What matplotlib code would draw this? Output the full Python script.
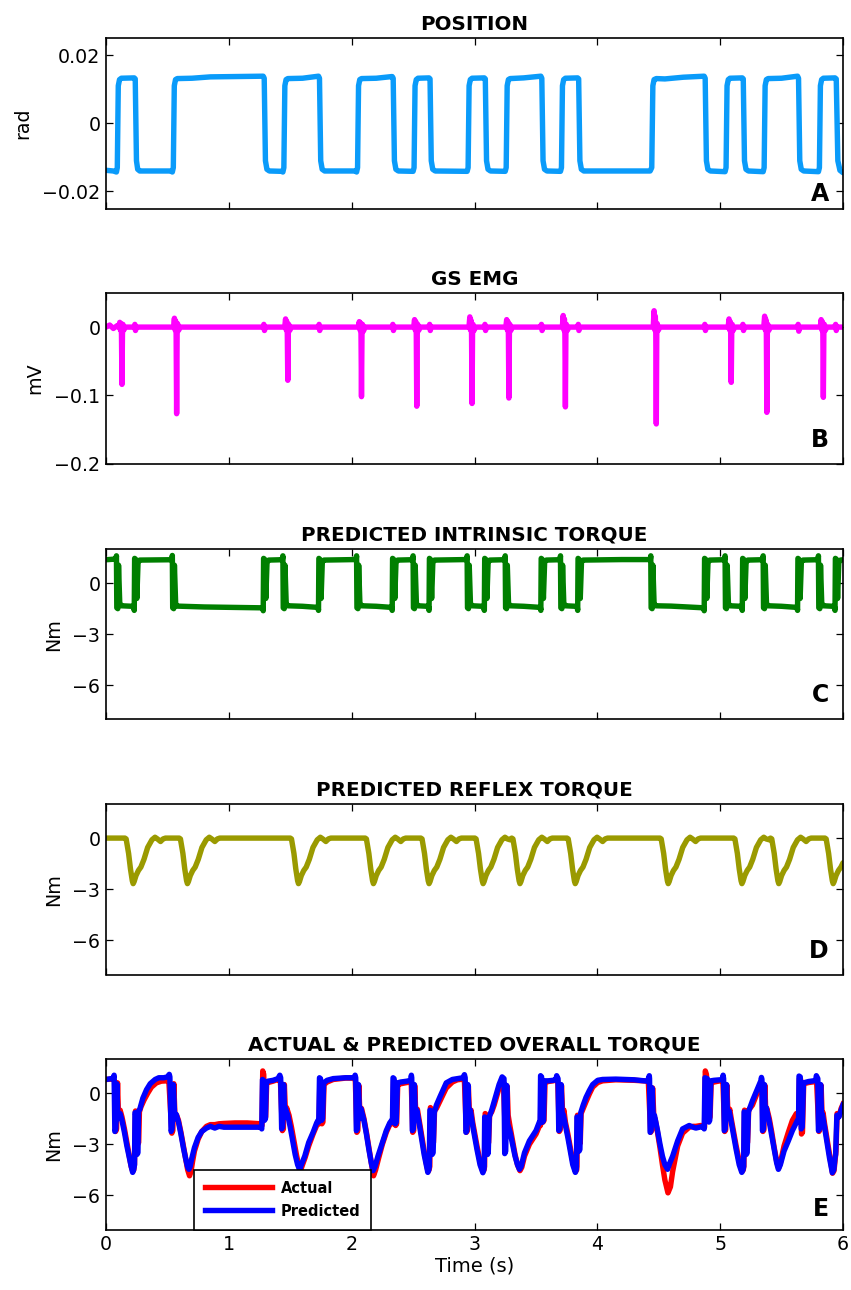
import matplotlib
matplotlib.use("Agg")
import matplotlib.pyplot as plt

# ---------------------------------------------------------------- data
# each trace is a list of (time [s], value) points

position = [
    (0.000, -0.0138), (0.060, -0.0140), (0.085, -0.0143),
    (0.092, -0.0130), (0.100, 0.0110), (0.110, 0.0128), (0.125, 0.0132), (0.230, 0.0133),
    (0.238, 0.0130), (0.248, -0.0110), (0.258, -0.0135), (0.275, -0.0140), (0.530, -0.0140), (0.540, -0.0143),
    (0.548, -0.0130), (0.556, 0.0110), (0.566, 0.0128), (0.580, 0.0131), (0.700, 0.0132), (0.850, 0.0136),
    (1.050, 0.0137), (1.280, 0.0138),
    (1.288, 0.0132), (1.298, -0.0110), (1.310, -0.0135), (1.330, -0.0140), (1.430, -0.0141), (1.440, -0.0143),
    (1.448, -0.0130), (1.456, 0.0110), (1.466, 0.0128), (1.480, 0.0131), (1.600, 0.0132), (1.730, 0.0138),
    (1.738, 0.0132), (1.748, -0.0110), (1.760, -0.0135), (1.780, -0.0140), (2.030, -0.0140), (2.040, -0.0143),
    (2.048, -0.0130), (2.056, 0.0110), (2.066, 0.0128), (2.080, 0.0131), (2.200, 0.0132), (2.330, 0.0137),
    (2.338, 0.0132), (2.348, -0.0110), (2.360, -0.0135), (2.380, -0.0140), (2.500, -0.0141),
    (2.508, -0.0130), (2.516, 0.0110), (2.526, 0.0128), (2.540, 0.0132), (2.630, 0.0133),
    (2.638, 0.0130), (2.648, -0.0110), (2.660, -0.0135), (2.680, -0.0140), (2.940, -0.0141),
    (2.948, -0.0130), (2.956, 0.0110), (2.966, 0.0128), (2.980, 0.0132), (3.080, 0.0133),
    (3.088, 0.0130), (3.098, -0.0110), (3.110, -0.0135), (3.130, -0.0140), (3.250, -0.0141),
    (3.258, -0.0130), (3.266, 0.0110), (3.276, 0.0128), (3.290, 0.0131), (3.400, 0.0133), (3.540, 0.0138),
    (3.548, 0.0132), (3.558, -0.0110), (3.570, -0.0135), (3.590, -0.0140), (3.700, -0.0141),
    (3.708, -0.0130), (3.716, 0.0110), (3.726, 0.0128), (3.740, 0.0132), (3.840, 0.0133),
    (3.848, 0.0130), (3.858, -0.0110), (3.870, -0.0135), (3.890, -0.0140), (4.430, -0.0140),
    (4.443, -0.0130), (4.452, 0.0110), (4.462, 0.0128), (4.480, 0.0131), (4.550, 0.0130), (4.700, 0.0135),
    (4.870, 0.0138),
    (4.878, 0.0132), (4.888, -0.0110), (4.900, -0.0135), (4.920, -0.0140), (5.040, -0.0142),
    (5.048, -0.0130), (5.056, 0.0110), (5.066, 0.0128), (5.080, 0.0132), (5.180, 0.0133),
    (5.188, 0.0130), (5.198, -0.0110), (5.210, -0.0135), (5.230, -0.0140), (5.350, -0.0142),
    (5.358, -0.0130), (5.366, 0.0110), (5.376, 0.0128), (5.390, 0.0131), (5.500, 0.0132), (5.630, 0.0138),
    (5.638, 0.0132), (5.648, -0.0110), (5.660, -0.0135), (5.680, -0.0140), (5.800, -0.0142),
    (5.808, -0.0130), (5.816, 0.0110), (5.826, 0.0128), (5.840, 0.0132), (5.935, 0.0133),
    (5.945, 0.0130), (5.958, -0.0110), (5.975, -0.0138), (6.000, -0.0145),
]

gs_emg = [
    (0.000, 0.000), (0.030, 0.003), (0.060, -0.002), (0.090, 0.002),
    (0.105, 0.000), (0.112, 0.007), (0.117, -0.004), (0.122, 0.005), (0.126, -0.010), (0.130, -0.084),
    (0.134, -0.010), (0.138, 0.004), (0.145, -0.004), (0.160, 0.000),
    (0.230, 0.000), (0.235, 0.004), (0.240, -0.005), (0.247, 0.000),
    (0.550, 0.000), (0.557, 0.013), (0.562, -0.004), (0.567, 0.009), (0.571, -0.010), (0.575, -0.127),
    (0.579, -0.010), (0.583, 0.005), (0.590, -0.005), (0.605, 0.000),
    (1.280, 0.000), (1.285, 0.004), (1.290, -0.005), (1.297, 0.000),
    (1.455, 0.000), (1.462, 0.012), (1.467, -0.004), (1.472, 0.008), (1.476, -0.010), (1.480, -0.078),
    (1.484, -0.010), (1.488, 0.004), (1.495, -0.005), (1.510, 0.000),
    (1.730, 0.000), (1.735, 0.004), (1.740, -0.005), (1.747, 0.000),
    (2.055, 0.000), (2.062, 0.008), (2.067, -0.004), (2.072, 0.006), (2.076, -0.010), (2.080, -0.102),
    (2.084, -0.010), (2.088, 0.004), (2.095, -0.006), (2.110, 0.000),
    (2.330, 0.000), (2.335, 0.004), (2.340, -0.005), (2.347, 0.000),
    (2.505, 0.000), (2.512, 0.011), (2.517, -0.004), (2.522, 0.008), (2.526, -0.010), (2.530, -0.116),
    (2.534, -0.010), (2.538, 0.004), (2.545, -0.005), (2.560, 0.000),
    (2.630, 0.000), (2.635, 0.004), (2.640, -0.005), (2.647, 0.000),
    (2.955, 0.000), (2.962, 0.015), (2.967, -0.004), (2.972, 0.010), (2.976, -0.010), (2.980, -0.112),
    (2.984, -0.010), (2.988, 0.004), (2.995, -0.005), (3.010, 0.000),
    (3.080, 0.000), (3.085, 0.004), (3.090, -0.005), (3.097, 0.000),
    (3.255, 0.000), (3.262, 0.011), (3.267, -0.004), (3.272, 0.008), (3.276, -0.010), (3.280, -0.104),
    (3.284, -0.010), (3.288, 0.004), (3.295, -0.005), (3.310, 0.000),
    (3.540, 0.000), (3.545, 0.004), (3.550, -0.005), (3.557, 0.000),
    (3.715, 0.000), (3.722, 0.017), (3.727, -0.004), (3.732, 0.012), (3.736, -0.010), (3.740, -0.117),
    (3.744, -0.010), (3.748, 0.004), (3.755, -0.005), (3.770, 0.000),
    (3.840, 0.000), (3.845, 0.004), (3.850, -0.005), (3.857, 0.000),
    (4.455, 0.000), (4.462, 0.024), (4.467, -0.004), (4.472, 0.016), (4.476, -0.010), (4.480, -0.142),
    (4.484, -0.010), (4.488, 0.005), (4.495, -0.005), (4.510, 0.000),
    (4.870, 0.000), (4.875, 0.004), (4.880, -0.005), (4.887, 0.000),
    (5.065, 0.000), (5.072, 0.012), (5.077, -0.004), (5.082, 0.008), (5.086, -0.010), (5.090, -0.081),
    (5.094, -0.010), (5.098, 0.004), (5.105, -0.005), (5.120, 0.000),
    (5.180, 0.000), (5.185, 0.004), (5.190, -0.005), (5.197, 0.000),
    (5.355, 0.000), (5.362, 0.016), (5.367, -0.004), (5.372, 0.011), (5.376, -0.010), (5.380, -0.125),
    (5.384, -0.010), (5.388, 0.004), (5.395, -0.005), (5.410, 0.000),
    (5.630, 0.000), (5.635, 0.004), (5.640, -0.006), (5.647, 0.000),
    (5.815, 0.000), (5.822, 0.011), (5.827, -0.004), (5.832, 0.008), (5.836, -0.010), (5.840, -0.103),
    (5.844, -0.010), (5.848, 0.004), (5.855, -0.005), (5.870, 0.000),
    (5.935, 0.000), (5.940, 0.004), (5.945, -0.005), (5.952, 0.000), (6.000, 0.000),
]

intrinsic = [
    (0.000, 1.37), (0.060, 1.40),
    (0.082, 1.42), (0.085, 1.60), (0.088, -1.45), (0.096, -1.50), (0.102, 1.05), (0.112, -1.20), (0.125, -1.33), (0.215, -1.36),
    (0.227, -1.42), (0.230, -1.60), (0.233, 1.45), (0.241, 1.40), (0.251, -0.90), (0.261, 1.25), (0.275, 1.35), (0.525, 1.37),
    (0.537, 1.42), (0.540, 1.62), (0.543, -1.45), (0.551, -1.50), (0.557, 1.05), (0.567, -1.20), (0.580, -1.35),
    (0.800, -1.40), (1.050, -1.43), (1.265, -1.45),
    (1.277, -1.45), (1.280, -1.62), (1.283, 1.45), (1.291, 1.40), (1.301, -0.90), (1.311, 1.25), (1.325, 1.35), (1.425, 1.37),
    (1.437, 1.42), (1.440, 1.60), (1.443, -1.45), (1.451, -1.50), (1.457, 1.05), (1.467, -1.20), (1.480, -1.33),
    (1.600, -1.36), (1.715, -1.42),
    (1.727, -1.45), (1.730, -1.60), (1.733, 1.45), (1.741, 1.40), (1.751, -0.90), (1.761, 1.25), (1.775, 1.35), (2.025, 1.38),
    (2.037, 1.42), (2.040, 1.60), (2.043, -1.45), (2.051, -1.50), (2.057, 1.05), (2.067, -1.20), (2.080, -1.33),
    (2.200, -1.36), (2.315, -1.42),
    (2.327, -1.45), (2.330, -1.60), (2.333, 1.45), (2.341, 1.40), (2.351, -0.90), (2.361, 1.25), (2.375, 1.35), (2.485, 1.37),
    (2.497, 1.42), (2.500, 1.60), (2.503, -1.45), (2.511, -1.50), (2.517, 1.05), (2.527, -1.20), (2.540, -1.33), (2.615, -1.36),
    (2.627, -1.42), (2.630, -1.60), (2.633, 1.45), (2.641, 1.40), (2.651, -0.90), (2.661, 1.25), (2.675, 1.35), (2.925, 1.38),
    (2.937, 1.42), (2.940, 1.60), (2.943, -1.45), (2.951, -1.50), (2.957, 1.05), (2.967, -1.20), (2.980, -1.33), (3.065, -1.36),
    (3.077, -1.42), (3.080, -1.60), (3.083, 1.45), (3.091, 1.40), (3.101, -0.90), (3.111, 1.25), (3.125, 1.35), (3.235, 1.37),
    (3.247, 1.42), (3.250, 1.60), (3.253, -1.45), (3.261, -1.50), (3.267, 1.05), (3.277, -1.20), (3.290, -1.33),
    (3.400, -1.36), (3.525, -1.42),
    (3.537, -1.45), (3.540, -1.60), (3.543, 1.45), (3.551, 1.40), (3.561, -0.90), (3.571, 1.25), (3.585, 1.35), (3.685, 1.37),
    (3.697, 1.42), (3.700, 1.60), (3.703, -1.45), (3.711, -1.50), (3.717, 1.05), (3.727, -1.20), (3.740, -1.33), (3.825, -1.36),
    (3.837, -1.42), (3.840, -1.60), (3.843, 1.45), (3.851, 1.40), (3.861, -0.90), (3.871, 1.25), (3.885, 1.35),
    (4.200, 1.38), (4.420, 1.38),
    (4.432, 1.42), (4.435, 1.60), (4.438, -1.45), (4.446, -1.50), (4.452, 1.05), (4.462, -1.20), (4.475, -1.33),
    (4.600, -1.35), (4.855, -1.45),
    (4.867, -1.45), (4.870, -1.62), (4.873, 1.45), (4.881, 1.40), (4.891, -0.90), (4.901, 1.25), (4.915, 1.35), (5.025, 1.37),
    (5.037, 1.42), (5.040, 1.60), (5.043, -1.45), (5.051, -1.50), (5.057, 1.05), (5.067, -1.20), (5.080, -1.33), (5.165, -1.36),
    (5.177, -1.42), (5.180, -1.60), (5.183, 1.45), (5.191, 1.40), (5.201, -0.90), (5.211, 1.25), (5.225, 1.35), (5.335, 1.37),
    (5.347, 1.42), (5.350, 1.60), (5.353, -1.45), (5.361, -1.50), (5.367, 1.05), (5.377, -1.20), (5.390, -1.33),
    (5.500, -1.36), (5.615, -1.42),
    (5.627, -1.45), (5.630, -1.60), (5.633, 1.45), (5.641, 1.40), (5.651, -0.90), (5.661, 1.25), (5.675, 1.35), (5.785, 1.37),
    (5.797, 1.42), (5.800, 1.60), (5.803, -1.45), (5.811, -1.50), (5.817, 1.05), (5.827, -1.20), (5.840, -1.33), (5.920, -1.36),
    (5.932, -1.42), (5.935, -1.60), (5.938, 1.45), (5.946, 1.40), (5.956, -0.90), (5.966, 1.25), (5.980, 1.35), (6.000, 1.37),
]

reflex = [
    (0.000, 0.00), (0.154, 0.00),
    (0.164, -0.05), (0.184, -0.90), (0.199, -1.80), (0.214, -2.50), (0.221, -2.67), (0.229, -2.55), (0.244, -2.20),
    (0.264, -1.90), (0.284, -1.70), (0.309, -1.25), (0.339, -0.55), (0.374, -0.10), (0.399, 0.05), (0.419, -0.05),
    (0.444, -0.20), (0.464, -0.05), (0.484, 0.00), (0.596, 0.00),
    (0.606, -0.05), (0.626, -0.90), (0.641, -1.80), (0.656, -2.50), (0.663, -2.67), (0.671, -2.55), (0.686, -2.20),
    (0.706, -1.90), (0.726, -1.70), (0.751, -1.25), (0.781, -0.55), (0.816, -0.10), (0.841, 0.05), (0.861, -0.05),
    (0.886, -0.20), (0.906, -0.05), (0.926, 0.00), (1.500, 0.00),
    (1.510, -0.05), (1.530, -0.90), (1.545, -1.80), (1.560, -2.50), (1.567, -2.67), (1.575, -2.55), (1.590, -2.20),
    (1.610, -1.90), (1.630, -1.70), (1.655, -1.25), (1.685, -0.55), (1.720, -0.10), (1.745, 0.05), (1.765, -0.05),
    (1.790, -0.20), (1.810, -0.05), (1.830, 0.00), (2.110, 0.00),
    (2.120, -0.05), (2.140, -0.90), (2.155, -1.80), (2.170, -2.50), (2.177, -2.67), (2.185, -2.55), (2.200, -2.20),
    (2.220, -1.90), (2.240, -1.70), (2.265, -1.25), (2.295, -0.55), (2.330, -0.10), (2.355, 0.05), (2.375, -0.05),
    (2.400, -0.20), (2.420, -0.05), (2.440, 0.00), (2.563, 0.00),
    (2.573, -0.05), (2.593, -0.90), (2.608, -1.80), (2.623, -2.50), (2.630, -2.67), (2.638, -2.55), (2.653, -2.20),
    (2.673, -1.90), (2.693, -1.70), (2.718, -1.25), (2.748, -0.55), (2.783, -0.10), (2.808, 0.05), (2.828, -0.05),
    (2.853, -0.20), (2.873, -0.05), (2.893, 0.00), (3.003, 0.00),
    (3.013, -0.05), (3.033, -0.90), (3.048, -1.80), (3.063, -2.50), (3.070, -2.67), (3.078, -2.55), (3.093, -2.20),
    (3.113, -1.90), (3.133, -1.70), (3.158, -1.25), (3.188, -0.55), (3.223, -0.10), (3.248, 0.05), (3.268, -0.05),
    (3.290, -0.10), (3.303, 0.00),
    (3.313, -0.05), (3.333, -0.90), (3.348, -1.80), (3.363, -2.50), (3.370, -2.67), (3.378, -2.55), (3.393, -2.20),
    (3.413, -1.90), (3.433, -1.70), (3.458, -1.25), (3.488, -0.55), (3.523, -0.10), (3.548, 0.05), (3.568, -0.05),
    (3.593, -0.20), (3.613, -0.05), (3.633, 0.00), (3.753, 0.00),
    (3.763, -0.05), (3.783, -0.90), (3.798, -1.80), (3.813, -2.50), (3.820, -2.67), (3.828, -2.55), (3.843, -2.20),
    (3.863, -1.90), (3.883, -1.70), (3.908, -1.25), (3.938, -0.55), (3.973, -0.10), (3.998, 0.05), (4.018, -0.05),
    (4.043, -0.20), (4.063, -0.05), (4.083, 0.00), (4.510, 0.00),
    (4.520, -0.05), (4.540, -0.90), (4.555, -1.80), (4.570, -2.50), (4.577, -2.67), (4.585, -2.55), (4.600, -2.20),
    (4.620, -1.90), (4.640, -1.70), (4.665, -1.25), (4.695, -0.55), (4.730, -0.10), (4.755, 0.05), (4.775, -0.05),
    (4.800, -0.20), (4.820, -0.05), (4.840, 0.00), (5.110, 0.00),
    (5.120, -0.05), (5.140, -0.90), (5.155, -1.80), (5.170, -2.50), (5.177, -2.67), (5.185, -2.55), (5.200, -2.20),
    (5.220, -1.90), (5.240, -1.70), (5.265, -1.25), (5.295, -0.55), (5.330, -0.10), (5.355, 0.05), (5.375, -0.05),
    (5.400, -0.10), (5.410, 0.00),
    (5.420, -0.05), (5.440, -0.90), (5.455, -1.80), (5.470, -2.50), (5.477, -2.67), (5.485, -2.55), (5.500, -2.20),
    (5.520, -1.90), (5.540, -1.70), (5.565, -1.25), (5.595, -0.55), (5.630, -0.10), (5.655, 0.05), (5.675, -0.05),
    (5.700, -0.20), (5.720, -0.05), (5.740, 0.00), (5.853, 0.00),
    (5.863, -0.05), (5.883, -0.90), (5.898, -1.80), (5.913, -2.50), (5.920, -2.67), (5.928, -2.55), (5.943, -2.20),
    (5.963, -1.90), (5.983, -1.70), (6.000, -1.45),
]

torque_actual = [
    (0.000, 0.80), (0.045, 0.82), (0.060, 0.85), (0.070, 0.70),
    (0.078, -2.25), (0.086, -2.10), (0.094, 0.60), (0.102, -1.40), (0.115, -1.00), (0.130, -1.40), (0.150, -2.10),
    (0.170, -2.90), (0.190, -3.70), (0.205, -4.30), (0.218, -4.60), (0.226, -4.50),
    (0.232, -4.20), (0.240, -1.05), (0.250, -1.20), (0.258, -3.00), (0.266, -2.90), (0.272, -1.10), (0.285, -0.80),
    (0.310, -0.40), (0.340, 0.00), (0.370, 0.35), (0.410, 0.60), (0.450, 0.70), (0.500, 0.72), (0.512, 0.65),
    (0.536, -2.35), (0.544, -2.20), (0.552, 0.55), (0.562, -1.50), (0.575, -1.30), (0.590, -1.60), (0.610, -2.30),
    (0.630, -3.10), (0.650, -3.90), (0.665, -4.50), (0.680, -4.85), (0.692, -4.60), (0.705, -4.00), (0.720, -3.40),
    (0.750, -2.70), (0.780, -2.25), (0.818, -1.95), (0.850, -1.85), (0.886, -1.85), (0.920, -1.80), (0.960, -1.78),
    (1.050, -1.75), (1.150, -1.75), (1.260, -1.80),
    (1.270, -1.90), (1.276, 1.30), (1.284, 1.10), (1.292, -1.50), (1.300, -1.40), (1.308, 0.60), (1.320, 0.62),
    (1.360, 0.70), (1.400, 0.80), (1.420, 0.70),
    (1.436, -2.20), (1.444, -2.10), (1.452, 0.50), (1.462, -1.40), (1.470, -0.85), (1.490, -1.30), (1.510, -2.00),
    (1.530, -2.80), (1.550, -3.60), (1.570, -4.30), (1.582, -4.60), (1.595, -4.30), (1.620, -3.80), (1.650, -3.10),
    (1.686, -2.40), (1.715, -1.90), (1.730, -1.75),
    (1.735, -1.80), (1.741, 0.75), (1.749, 0.70), (1.758, -1.80), (1.766, -1.70), (1.775, 0.50), (1.800, 0.65),
    (1.850, 0.80), (1.950, 0.88), (2.020, 0.88), (2.030, 0.70),
    (2.042, -2.30), (2.050, -2.20), (2.058, 0.45), (2.068, -1.40), (2.080, -0.90), (2.100, -1.50), (2.120, -2.30),
    (2.140, -3.20), (2.160, -4.10), (2.178, -4.85), (2.195, -4.50), (2.220, -3.80), (2.250, -3.00), (2.282, -2.30),
    (2.310, -1.85), (2.330, -1.70),
    (2.336, -1.80), (2.341, 0.75), (2.349, 0.70), (2.358, -1.90), (2.366, -1.80), (2.375, 0.50), (2.400, 0.55),
    (2.450, 0.62), (2.485, 0.65),
    (2.497, -2.30), (2.505, -2.20), (2.513, 0.45), (2.523, -1.40), (2.535, -0.95), (2.550, -1.60), (2.570, -2.50),
    (2.590, -3.40), (2.610, -4.20), (2.622, -4.60), (2.630, -4.50),
    (2.636, -4.30), (2.641, -0.85), (2.650, -0.95), (2.658, -3.00), (2.666, -2.90), (2.675, -1.00), (2.690, -0.90),
    (2.720, -0.45), (2.770, 0.30), (2.820, 0.65), (2.860, 0.78), (2.905, 0.82), (2.918, 0.70),
    (2.934, -2.30), (2.942, -2.20), (2.950, 0.40), (2.960, -1.40), (2.972, -1.00), (2.985, -1.70), (3.000, -2.30),
    (3.020, -3.10), (3.045, -4.00), (3.068, -4.60), (3.078, -4.50),
    (3.082, -4.30), (3.087, -1.20), (3.098, -1.30), (3.108, -3.00), (3.115, -2.90), (3.123, -1.30), (3.140, -1.10),
    (3.160, -0.70), (3.180, -0.20), (3.200, 0.30), (3.225, 0.70), (3.235, 0.75),
    (3.250, -2.20), (3.258, -2.10), (3.266, 0.40), (3.274, -1.30), (3.290, -2.00), (3.310, -2.80), (3.330, -3.60),
    (3.350, -4.20), (3.370, -4.55), (3.385, -4.35), (3.407, -3.70), (3.447, -3.00), (3.501, -2.40), (3.530, -1.90),
    (3.537, -1.90), (3.542, 0.85), (3.550, 0.80), (3.558, -1.70), (3.566, -1.60), (3.574, 0.60), (3.600, 0.68),
    (3.640, 0.72), (3.668, 0.78), (3.678, 0.70),
    (3.690, -2.25), (3.698, -2.15), (3.708, 0.45), (3.718, -1.30), (3.728, -1.00), (3.740, -1.70), (3.760, -2.40),
    (3.780, -3.20), (3.800, -4.00), (3.823, -4.60), (3.832, -4.50),
    (3.834, -4.30), (3.838, -1.30), (3.848, -1.40), (3.855, -3.00), (3.861, -2.90), (3.868, -1.20), (3.885, -0.90),
    (3.908, -0.50), (3.935, -0.05), (3.962, 0.35), (4.003, 0.62), (4.043, 0.72), (4.150, 0.78), (4.300, 0.75),
    (4.415, 0.70),
    (4.434, -2.30), (4.442, -2.20), (4.450, 0.30), (4.460, -1.40), (4.470, -1.50), (4.490, -2.30), (4.510, -3.20),
    (4.530, -4.20), (4.550, -5.10), (4.575, -5.85), (4.595, -5.50), (4.613, -4.60), (4.654, -3.10), (4.694, -2.35),
    (4.748, -2.00), (4.780, -1.95), (4.802, -1.95), (4.843, -1.90), (4.868, -1.95),
    (4.873, -2.00), (4.879, 1.30), (4.888, 1.10), (4.911, -1.50), (4.918, -1.40), (4.927, 0.60), (4.950, 0.65),
    (5.000, 0.72), (5.022, 0.72),
    (5.037, -2.25), (5.045, -2.15), (5.055, 0.45), (5.064, -1.40), (5.078, -0.95), (5.090, -1.50), (5.110, -2.30),
    (5.130, -3.10), (5.155, -4.00), (5.178, -4.60), (5.188, -4.50),
    (5.193, -4.30), (5.198, -1.00), (5.208, -1.05), (5.215, -3.00), (5.223, -2.90), (5.232, -1.00), (5.263, -0.70),
    (5.304, 0.05), (5.331, 0.55), (5.340, 0.60),
    (5.348, -2.25), (5.356, -2.15), (5.364, 0.45), (5.372, -1.30), (5.380, -0.90), (5.400, -1.50), (5.420, -2.30),
    (5.440, -3.20), (5.460, -4.00), (5.476, -4.40), (5.490, -4.10), (5.520, -3.10), (5.555, -2.30), (5.588, -1.60),
    (5.620, -1.20), (5.632, -1.20),
    (5.640, -1.30), (5.645, 0.85), (5.655, 0.80), (5.662, -2.40), (5.670, -2.30), (5.680, 0.55), (5.720, 0.62),
    (5.760, 0.66), (5.785, 0.70),
    (5.804, -2.25), (5.812, -2.15), (5.822, 0.45), (5.830, -1.40), (5.838, -1.15), (5.850, -1.80), (5.870, -2.70),
    (5.890, -3.60), (5.915, -4.70), (5.927, -4.55), (5.937, -3.80),
    (5.943, -3.40), (5.952, -1.20), (5.968, -1.35), (5.985, -0.90), (6.000, -0.65),
]

torque_predicted = [
    (0.000, 0.80), (0.045, 0.85), (0.060, 0.90), (0.066, 1.05),
    (0.072, -2.25), (0.080, -2.10), (0.088, 0.55), (0.097, -1.50), (0.105, -1.30), (0.115, -1.20), (0.130, -1.60),
    (0.150, -2.30), (0.170, -3.10), (0.190, -3.80), (0.205, -4.30), (0.217, -4.65), (0.225, -4.50),
    (0.232, -4.20), (0.236, -1.15), (0.245, -1.25), (0.252, -3.60), (0.260, -3.50), (0.265, -1.05), (0.275, -0.95),
    (0.300, -0.30), (0.330, 0.20), (0.360, 0.55), (0.400, 0.80), (0.430, 0.90), (0.470, 0.90), (0.500, 0.95),
    (0.515, 1.10), (0.520, 0.95),
    (0.530, -2.25), (0.538, -2.10), (0.548, 0.50), (0.560, -1.50), (0.572, -1.25), (0.590, -1.70), (0.610, -2.40),
    (0.630, -3.20), (0.650, -3.90), (0.665, -4.35), (0.675, -4.47), (0.685, -4.30), (0.696, -3.90), (0.720, -3.20),
    (0.750, -2.60), (0.780, -2.25), (0.818, -2.05), (0.850, -1.95), (0.886, -2.05), (0.920, -1.95), (0.960, -2.00),
    (1.050, -2.00), (1.150, -2.00), (1.260, -2.00),
    (1.268, -2.10), (1.274, 0.80), (1.282, 0.75), (1.290, -1.60), (1.298, -1.50), (1.305, 0.65), (1.320, 0.70),
    (1.360, 0.75), (1.400, 0.85), (1.415, 1.05), (1.422, 0.90),
    (1.430, -2.10), (1.438, -2.00), (1.446, 0.50), (1.456, -1.40), (1.458, -0.85), (1.480, -1.30), (1.500, -2.00),
    (1.520, -2.80), (1.540, -3.60), (1.560, -4.20), (1.577, -4.50), (1.590, -4.20), (1.618, -3.70), (1.650, -2.90),
    (1.686, -2.30), (1.715, -1.75), (1.726, -1.60),
    (1.732, -1.70), (1.738, 0.90), (1.746, 0.85), (1.755, -1.60), (1.763, -1.50), (1.772, 0.60), (1.800, 0.75),
    (1.850, 0.85), (1.950, 0.90), (2.020, 0.90), (2.028, 1.05), (2.033, 0.90),
    (2.038, -2.20), (2.046, -2.10), (2.055, 0.50), (2.065, -1.50), (2.075, -0.90), (2.100, -1.60), (2.120, -2.40),
    (2.140, -3.30), (2.160, -4.10), (2.174, -4.55), (2.190, -4.30), (2.214, -3.70), (2.250, -2.90), (2.282, -2.20),
    (2.310, -1.75), (2.325, -1.60),
    (2.332, -1.70), (2.337, 0.90), (2.345, 0.85), (2.355, -1.80), (2.363, -1.70), (2.372, 0.60), (2.400, 0.65),
    (2.450, 0.70), (2.480, 0.75), (2.486, 1.05), (2.489, 0.90),
    (2.494, -2.20), (2.502, -2.10), (2.510, 0.50), (2.520, -1.50), (2.530, -1.00), (2.550, -1.80), (2.570, -2.70),
    (2.590, -3.60), (2.610, -4.30), (2.620, -4.65), (2.628, -4.50),
    (2.632, -4.30), (2.637, -1.00), (2.647, -1.05), (2.655, -3.60), (2.663, -3.50), (2.672, -1.15), (2.690, -0.70),
    (2.720, -0.20), (2.770, 0.60), (2.820, 0.80), (2.860, 0.85), (2.905, 0.90), (2.918, 1.08), (2.924, 0.90),
    (2.930, -2.30), (2.938, -2.20), (2.946, 0.50), (2.956, -1.50), (2.966, -1.00), (2.985, -1.90), (3.000, -2.50),
    (3.020, -3.30), (3.045, -4.20), (3.068, -4.67), (3.076, -4.50),
    (3.079, -4.30), (3.083, -1.40), (3.095, -1.50), (3.106, -3.60), (3.112, -3.50), (3.120, -1.40), (3.140, -1.00),
    (3.160, -0.50), (3.180, 0.00), (3.200, 0.50), (3.217, 0.80), (3.225, 0.95), (3.240, 0.85),
    (3.246, -3.55), (3.254, -3.40), (3.262, 0.45), (3.270, -1.80), (3.290, -2.30), (3.310, -3.00), (3.330, -3.70),
    (3.350, -4.20), (3.366, -4.47), (3.380, -4.30), (3.407, -3.50), (3.447, -2.80), (3.501, -2.20), (3.528, -1.70),
    (3.534, -1.75), (3.538, 1.02), (3.546, 0.95), (3.554, -1.70), (3.562, -1.60), (3.569, 0.72), (3.600, 0.72),
    (3.640, 0.75), (3.664, 0.80), (3.669, 1.02), (3.680, 0.85),
    (3.686, -2.20), (3.694, -2.10), (3.705, 0.50), (3.714, -1.30), (3.722, -1.25), (3.740, -1.90), (3.760, -2.60),
    (3.780, -3.40), (3.800, -4.20), (3.821, -4.65), (3.828, -4.50),
    (3.830, -4.30), (3.834, -1.40), (3.845, -1.50), (3.852, -3.40), (3.858, -3.30), (3.865, -1.15), (3.885, -0.70),
    (3.908, -0.25), (3.935, 0.15), (3.962, 0.50), (4.003, 0.75), (4.043, 0.80), (4.150, 0.82), (4.300, 0.78),
    (4.409, 0.70), (4.423, 1.02), (4.425, 0.85),
    (4.430, -2.30), (4.438, -2.20), (4.446, 0.30), (4.455, -1.40), (4.465, -1.30), (4.490, -2.20), (4.510, -3.00),
    (4.530, -3.70), (4.550, -4.20), (4.572, -4.47), (4.590, -4.10), (4.613, -3.70), (4.654, -2.80), (4.694, -2.10),
    (4.748, -1.90), (4.780, -2.00), (4.802, -2.05), (4.843, -1.98), (4.865, -2.00),
    (4.870, -2.10), (4.876, 0.90), (4.895, 0.85), (4.908, -1.70), (4.915, -1.60), (4.924, 0.72), (4.950, 0.75),
    (5.000, 0.78), (5.019, 0.80), (5.024, 1.05), (5.028, 0.85),
    (5.033, -2.20), (5.041, -2.10), (5.052, 0.50), (5.060, -1.40), (5.073, -1.05), (5.090, -1.70), (5.110, -2.50),
    (5.130, -3.30), (5.155, -4.20), (5.176, -4.65), (5.186, -4.50),
    (5.191, -4.30), (5.195, -1.10), (5.205, -1.15), (5.212, -3.60), (5.220, -3.50), (5.230, -1.10), (5.263, -0.45),
    (5.304, 0.25), (5.331, 0.72), (5.336, 0.92), (5.340, 0.80),
    (5.344, -2.20), (5.352, -2.10), (5.360, 0.50), (5.368, -1.40), (5.375, -0.85), (5.400, -1.70), (5.420, -2.50),
    (5.440, -3.30), (5.460, -4.10), (5.474, -4.47), (5.490, -4.20), (5.520, -3.40), (5.555, -2.80), (5.588, -2.20),
    (5.629, -1.60),
    (5.638, -1.70), (5.642, 1.00), (5.652, 0.95), (5.660, -2.10), (5.668, -2.00), (5.678, 0.60), (5.720, 0.68),
    (5.760, 0.72), (5.778, 0.75), (5.783, 1.02), (5.795, 0.85),
    (5.800, -2.20), (5.808, -2.10), (5.818, 0.50), (5.826, -1.40), (5.832, -1.25), (5.850, -2.00), (5.870, -2.90),
    (5.890, -3.80), (5.913, -4.67), (5.925, -4.50), (5.935, -3.80),
    (5.940, -3.60), (5.950, -1.30), (5.967, -1.40), (5.985, -1.00), (6.000, -0.70),
]

x_ticks = [0, 1, 2, 3, 4, 5, 6]

panels = [
    # title, trace, colour, ylim, yticks, ytick labels, ylabel, letter, letter height
    ("POSITION", position, "#0A9BFA", (-0.025, 0.025), [-0.02, 0, 0.02],
     ["\u22120.02", "0", "0.02"], "rad", "A", 0.042),
    ("GS EMG", gs_emg, "#FF00FF", (-0.2, 0.05), [-0.2, -0.1, 0],
     ["\u22120.2", "\u22120.1", "0"], "mV", "B", 0.094),
    ("PREDICTED INTRINSIC TORQUE", intrinsic, "#007F00", (-8, 2), [-6, -3, 0],
     ["\u22126", "\u22123", "0"], "Nm", "C", 0.10),
    ("PREDICTED REFLEX TORQUE", reflex, "#9A9A00", (-8, 2), [-6, -3, 0],
     ["\u22126", "\u22123", "0"], "Nm", "D", 0.094),
    ("ACTUAL & PREDICTED OVERALL TORQUE", None, None, (-8, 2), [-6, -3, 0],
     ["\u22126", "\u22123", "0"], "Nm", "E", 0.082),
]

# ---------------------------------------------------------------- figure
plt.rcParams["font.family"] = ["DejaVu Sans"]

W, H = 851, 1290
fig = plt.figure(figsize=(W / 100, H / 100), dpi=100)

left_px, right_px = 106, 843
tops_px = [38, 293, 549, 804, 1059]
ax_h_px = 170.5

LW = 3.9

for i, (title, trace, colour, ylim, yticks, ylabels, ylab, letter, ly) in enumerate(panels):
    top = tops_px[i]
    ax = fig.add_axes([left_px / W, 1 - (top + ax_h_px) / H,
                       (right_px - left_px) / W, ax_h_px / H])

    if trace is not None:
        t, v = zip(*trace)
        ax.plot(t, v, color=colour, lw=LW, solid_joinstyle="round", solid_capstyle="round")
    else:
        ta, va = zip(*torque_actual)
        tp, vp = zip(*torque_predicted)
        ax.plot(ta, va, color="#FF0000", lw=LW, solid_joinstyle="round", label="Actual")
        ax.plot(tp, vp, color="#0000FF", lw=LW, solid_joinstyle="round", label="Predicted")
        leg = ax.legend(loc="lower left", bbox_to_anchor=(0.119, 0.0), borderaxespad=0,
                        fancybox=False, framealpha=1, edgecolor="black",
                        prop={"weight": "bold", "size": 10.5}, handlelength=4.6,
                        handletextpad=0.6, borderpad=0.75, labelspacing=0.55)
        leg.get_frame().set_linewidth(1.2)

    ax.set_xlim(0, 6)
    ax.set_ylim(*ylim)
    ax.set_xticks(x_ticks)
    ax.set_yticks(yticks)
    ax.set_yticklabels(ylabels)
    ax.tick_params(direction="in", top=True, right=True, length=5, width=0.9,
                   labelsize=13.7, pad=4)
    if i < 4:
        ax.tick_params(labelbottom=False)
    else:
        ax.set_xticklabels([str(x) for x in x_ticks])
        ax.set_xlabel("Time (s)", fontsize=14, labelpad=2)
    for s in ax.spines.values():
        s.set_linewidth(1.2)

    ax.set_title(title, fontsize=14.3, fontweight="bold", pad=6)
    ax.set_ylabel(ylab, fontsize=13.7, labelpad=7)
    ax.text(0.981, ly, letter, transform=ax.transAxes, ha="right", va="baseline",
            fontsize=17, fontweight="bold")

fig.savefig("out.png", dpi=100)
